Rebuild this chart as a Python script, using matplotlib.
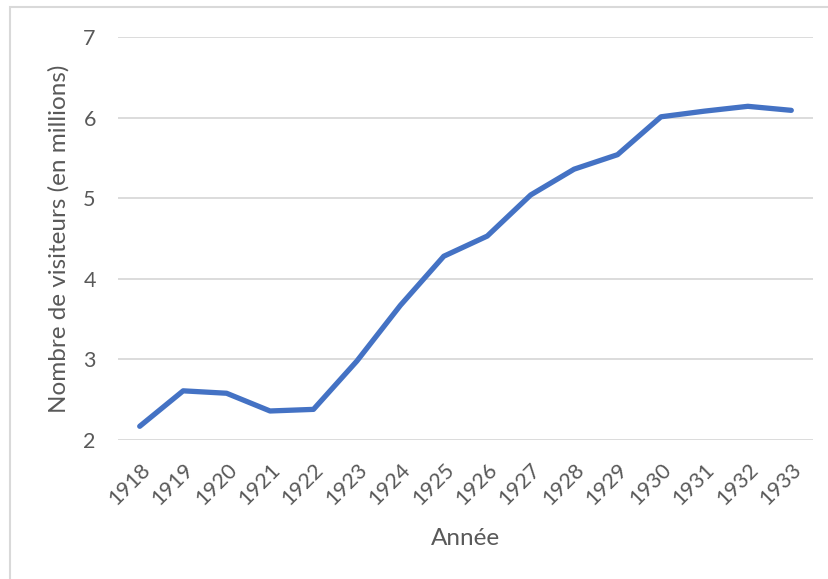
import matplotlib.pyplot as plt
from matplotlib.patches import Rectangle

# Visitors per year (millions)
years = ['1918', '1919', '1920', '1921', '1922', '1923', '1924', '1925',
         '1926', '1927', '1928', '1929', '1930', '1931', '1932', '1933']
visitors = [2.17, 2.61, 2.58, 2.36, 2.38, 2.98, 3.67, 4.28,
            4.53, 5.04, 5.36, 5.54, 6.01, 6.08, 6.14, 6.09]
yticks = [2, 3, 4, 5, 6, 7]

plt.rcParams['font.family'] = ['Lato', 'DejaVu Sans']
textcol = '#595959'

W, H = 829, 579
fig = plt.figure(figsize=(W / 100, H / 100), dpi=100)

# light chart frame (left/top edges visible, rest runs off the image)
fig.patches.append(Rectangle((10 / W, -0.1), 1.2, 1 - 7 / H + 0.1,
                             transform=fig.transFigure, fill=False,
                             edgecolor='#d9d9d9', linewidth=1.5))

ax = fig.add_axes([118 / W, 1 - 440 / H, (813 - 118) / W, (440 - 37) / H])
x = range(len(years))
ax.plot(x, visitors, color='#4472C4', linewidth=3.8, solid_capstyle='round',
        solid_joinstyle='round', zorder=3)

ax.set_xlim(-0.5, len(years) - 0.5)
ax.set_ylim(2, 7)
ax.set_yticks(yticks)
ax.set_xticks(list(x))
ax.set_xticklabels(years, rotation=45, ha='right', rotation_mode='anchor')
ax.grid(axis='y', color='#d9d9d9', linewidth=1.3)
ax.set_axisbelow(True)
for s in ax.spines.values():
    s.set_visible(False)
ax.tick_params(length=0, labelsize=15.5, colors=textcol)
ax.tick_params(axis='y', pad=16)
ax.tick_params(axis='x', pad=14)

ax.set_xlabel('Année', fontsize=17.5, color=textcol, labelpad=14)
ax.set_ylabel('Nombre de visiteurs (en millions)', fontsize=17.5, color=textcol, labelpad=10)

fig.savefig('out.png', dpi=100)
